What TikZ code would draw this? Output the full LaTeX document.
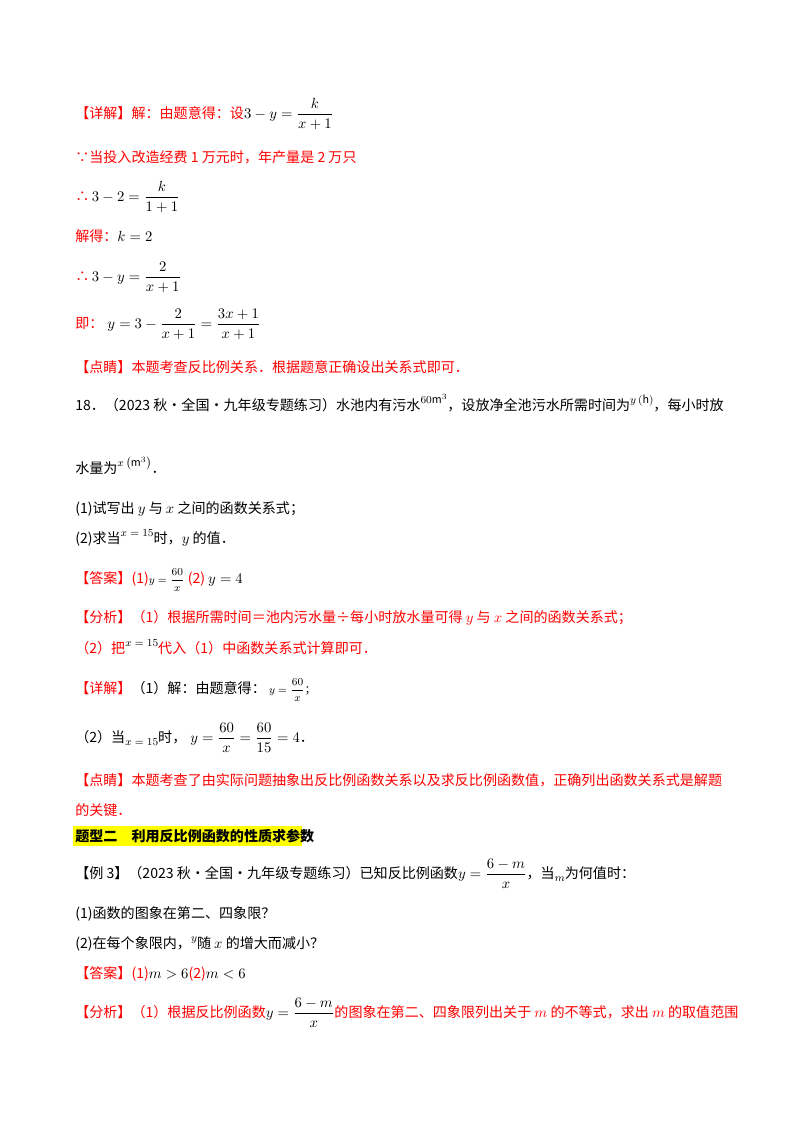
\documentclass[tikz,border=0pt]{standalone}
\usepackage{amsmath}
\usepackage{fontspec}
\setmainfont{Noto Sans CJK SC}
\definecolor{rd}{RGB}{255,0,0}
\definecolor{hl}{RGB}{255,255,0}
\newcommand{\upm}[1]{\raisebox{0.9ex}{\footnotesize$#1$}}
\newcommand{\dnm}[1]{\raisebox{-0.5ex}{\footnotesize$#1$}}
\begin{document}
\begin{tikzpicture}[x=0.02625cm,y=-0.02625cm,
  T/.style={anchor=base west,inner sep=0,font=\fontsize{10.5}{13}\selectfont},
  R/.style={T,text=rd}]
\useasboundingbox (0,0) rectangle (800,1132);
\node[R] (l1) at (75,118) {【详解】解：由题意得：设\textcolor{black}{$3-y=\dfrac{k}{x+1}$}};
\node[R] (l2) at (75,162) {∵当投入改造经费 1 万元时，年产量是 2 万只};
\node[R] (l3) at (75,201) {∴\textcolor{black}{$\,3-2=\dfrac{k}{1+1}$}};
\node[R] (l4) at (75,241) {解得：\textcolor{black}{$k=2$}};
\node[R] (l5) at (75,281) {∴\textcolor{black}{$\,3-y=\dfrac{2}{x+1}$}};
\node[R] (l6) at (75,328) {即：\textcolor{black}{$\;y=3-\dfrac{2}{x+1}=\dfrac{3x+1}{x+1}$}};
\node[R] (l7) at (75,372) {【点睛】本题考查反比例关系．根据题意正确设出关系式即可．};
\node[T] (l8) at (75,410) {18．（2023 秋·全国·九年级专题练习）水池内有污水\upm{60\mathrm{m}^3}，设放净全池污水所需时间为\upm{y\left(\mathrm{h}\right)}，每小时放};
\node[T] (l9) at (75,473) {水量为\upm{x\left(\mathrm{m}^3\right)}．};
\node[T] (l10) at (75,513) {(1)试写出 $y$ 与 $x$ 之间的函数关系式；};
\node[T] (l11) at (75,543) {(2)求当\upm{x=15}时，$y$ 的值．};
\node[R] (l12) at (75,583) {【答案】(1)\textcolor{black}{\footnotesize$y=\dfrac{60}{x}$} (2) \textcolor{black}{$y=4$}};
\node[R] (l13) at (75,622) {【分析】（1）根据所需时间＝池内污水量÷每小时放水量可得 $y$ 与 $x$ 之间的函数关系式；};
\node[R] (l14) at (75,653) {（2）把\textcolor{black}{\upm{x=15}}代入（1）中函数关系式计算即可．};
\node[R] (l15) at (75,693) {【详解】\textcolor{black}{（1）解：由题意得：\footnotesize$\;y=\dfrac{60}{x}$；}};
\node[T] (l16) at (75,742) {（2）当\dnm{x=15}时，$\;y=\dfrac{60}{x}=\dfrac{60}{15}=4$．};
\node[R] (l17) at (75,785) {【点睛】本题考查了由实际问题抽象出反比例函数关系以及求反比例函数值，正确列出函数关系式是解题};
\node[R] (l18) at (75,815) {的关键．};
\fill[hl] (73,826) rectangle (302,846);
\node[T,font=\fontsize{10.5}{13}\selectfont\bfseries] (l19) at (75,841) {题型二\quad 利用反比例函数的性质求参数};
\node[T] (l20) at (75,878) {【例 3】（2023 秋·全国·九年级专题练习）已知反比例函数$y=\dfrac{6-m}{x}$，当\dnm{m}为何值时：};
\node[T] (l21) at (75,918) {(1)函数的图象在第二、四象限？};
\node[T] (l22) at (75,948) {(2)在每个象限内，\upm{y}随 $x$ 的增大而减小？};
\node[R] (l23) at (75,978) {【答案】(1)\textcolor{black}{$m>6$}(2)\textcolor{black}{$m<6$}};
\node[R] (l24) at (75,1017) {【分析】（1）根据反比例函数\textcolor{black}{$y=\dfrac{6-m}{x}$}的图象在第二、四象限列出关于 $m$ 的不等式，求出 $m$ 的取值范围};
\end{tikzpicture}
\end{document}
